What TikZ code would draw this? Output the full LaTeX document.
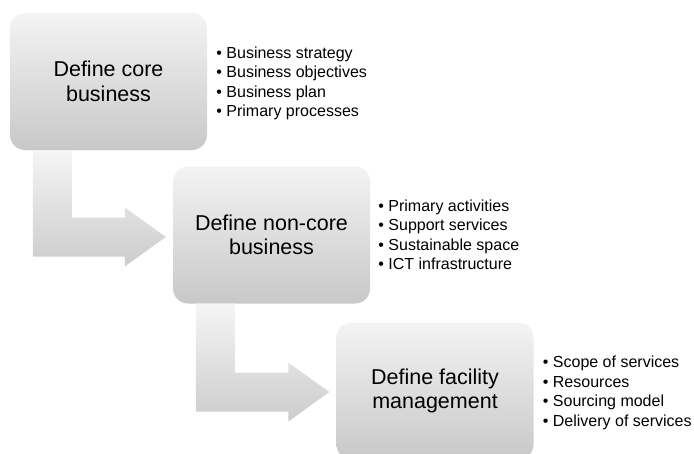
\documentclass[tikz,border=0pt]{standalone}
\usepackage{fontspec}
\setmainfont{Liberation Sans}
\usetikzlibrary{positioning}
\usetikzlibrary{calc}

\begin{document}
\begin{tikzpicture}[x=1pt,y=-1pt,
        box/.style={rounded corners=15pt,minimum width=197pt,minimum height=137pt,inner sep=0pt,
            top color=gray!9,bottom color=gray!43,align=center,text=black,
            font=\fontsize{21.5}{24.5}\selectfont},
        items/.style={align=left,inner sep=0pt,text=black,font=\fontsize{16}{19.5}\selectfont},
        elbow/.style={top color=gray!8,bottom color=gray!40}]
        %    \draw [help lines] (0,0) grid (694,453);
        \useasboundingbox (0,0) rectangle (694,453);

        \path node (core) [box] at (108.5,81.5) {Define core\\business};
        \path node (noncore) [box] at (271.5,235) {Define non-core\\business};
        \path node (fm) [box] at (435,391) {Define facility\\management};

        \path node (corelist) [items,right=9pt of core,yshift=-2pt] {• Business strategy\\• Business objectives\\• Business plan\\• Primary processes};
        \path node (noncorelist) [items,right=8pt of noncore] {• Primary activities\\• Support services\\• Sustainable space\\• ICT infrastructure};
        \path node (fmlist) [items,right=9pt of fm,yshift=-2pt] {• Scope of services\\• Resources\\• Sourcing model\\• Delivery of services};

        \coordinate (t1) at ($(noncore.west)+(-7,2)$);
        \coordinate (t2) at ($(fm.west)+(-7,1)$);

        \shade[elbow] ($(core.south west)+(23,0)$) -- ($(core.south west)+(62,0)$) |- ($(t1)+(-41,-19.5)$)
            -- ($(t1)+(-41,-29.5)$) -- (t1) -- ($(t1)+(-41,29.5)$) -- ($(t1)+(-41,19.5)$)
            -| ($(core.south west)+(23,0)$) -- cycle;
        \shade[elbow] ($(noncore.south west)+(23,0)$) -- ($(noncore.south west)+(62,0)$) |- ($(t2)+(-41,-19.5)$)
            -- ($(t2)+(-41,-29.5)$) -- (t2) -- ($(t2)+(-41,29.5)$) -- ($(t2)+(-41,19.5)$)
            -| ($(noncore.south west)+(23,0)$) -- cycle;

    \end{tikzpicture}
\end{document}
